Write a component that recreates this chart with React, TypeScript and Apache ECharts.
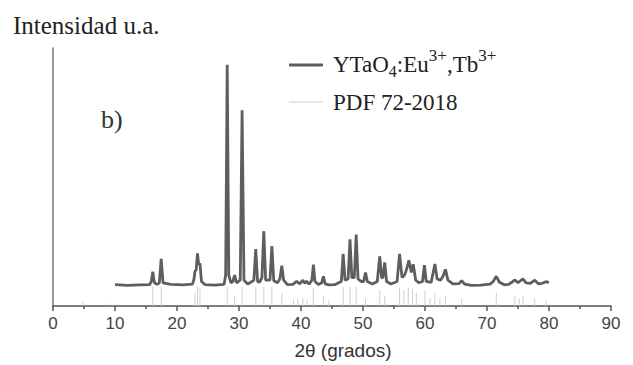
import React, { useEffect, useRef } from "react";
import * as echarts from "echarts";

// XRD pattern (2θ in degrees, intensity in arbitrary units)
const xrdAngles = [
  10, 12, 14, 15.6, 15.85, 16.1, 16.35, 16.8, 17.15, 17.45, 17.75, 19, 21, 22.5, 22.75, 22.9, 23.1, 23.3, 23.5, 23.7, 23.95,
  24.5, 26, 27.6, 27.85, 28.1, 28.35, 28.7, 29.0, 29.3, 29.6, 30.2, 30.5, 30.8, 31.4, 32.4, 32.7, 33.0, 33.3, 33.7, 34.0,
  34.3, 35.0, 35.3, 35.6, 36.2, 36.6, 36.9, 37.2, 37.8, 38.7, 39.3, 39.8, 40.3, 40.6, 40.9, 41.3, 41.75, 42.0, 42.25, 42.8,
  43.35, 43.6, 43.9, 44.5, 45.5, 46.5, 46.8, 47.1, 47.6, 47.9, 48.2, 48.6, 48.9, 49.2, 49.7, 50.1, 50.4, 50.7, 51.5, 52.3,
  52.7, 53.0, 53.2, 53.5, 53.8, 54.5, 55.5, 55.9, 56.3, 56.7, 57.0, 57.4, 57.8, 58.1, 58.5, 59.0, 59.6, 59.9, 60.2, 61.0,
  61.6, 61.95, 62.5, 62.9, 63.3, 63.7, 64.5, 65.5, 65.9, 66.4, 67.5, 69, 70.5, 71.0, 71.5, 72.0, 72.8, 73.5, 74.0, 74.5,
  75.0, 75.4, 75.8, 76.3, 77.0, 77.7, 78.3, 78.9, 79.5, 80,
];
const xrdIntensity = [
  8.3, 8.0, 8.2, 8.3, 9.5, 13.3, 9.0, 8.4, 9.0, 18.3, 9.0, 8.4, 8.2, 8.5, 10.5, 13.5, 14.0, 20.4, 16.0, 16.5, 9.5,
  8.3, 8.1, 8.4, 12.0, 93.5, 12.0, 9.0, 9.5, 12.0, 9.0, 10.0, 75.9, 10.0, 8.5, 10.0, 22.1, 9.5, 9.2, 11.0, 29.0,
  10.0, 10.0, 23.2, 9.8, 9.0, 10.5, 15.6, 10.0, 8.3, 8.4, 9.6, 8.6, 10.0, 8.8, 9.6, 8.5, 10.0, 16.0, 9.5, 8.3,
  9.0, 11.5, 8.6, 8.2, 8.3, 9.5, 20.2, 10.0, 10.5, 25.8, 11.0, 11.0, 27.7, 10.5, 9.5, 9.5, 13.0, 9.5, 8.5, 9.5,
  19.2, 11.0, 11.0, 16.9, 9.5, 8.5, 9.5, 20.2, 11.0, 12.0, 14.0, 17.7, 13.0, 16.2, 10.0, 9.0, 9.5, 15.8, 9.5, 9.2,
  16.3, 10.5, 10.0, 11.5, 14.2, 10.0, 8.6, 8.7, 9.8, 8.5, 8.0, 8.1, 8.5, 9.5, 11.5, 9.2, 8.2, 8.4, 9.2, 10.1,
  9.0, 9.8, 10.5, 9.0, 8.8, 10.0, 8.6, 8.8, 9.4, 9.2,
];

// Reference pattern PDF 72-2018 (positions and relative stick heights)
const pdfAngles = [
  4.8, 9.5, 16.1, 17.45, 22.9, 23.3, 23.7, 28.1, 29.3, 30.5, 32.7, 34.0, 35.3, 36.9, 38.8, 39.5, 40.3, 41.0, 42.0,
  43.6, 44.5, 46.8, 47.9, 48.9, 50.4, 52.7, 53.5, 55.9, 56.6, 57.3, 58.0, 58.6, 60.0, 60.8, 61.6, 62.4, 63.3, 65.9,
  71.5, 74.5, 75.2, 75.8, 77.7, 79.5,
];
const pdfHeights = [
  1.5, 1.0, 7.5, 7.5, 5.0, 7.5, 7.0, 7.5, 4.0, 7.5, 7.5, 7.5, 7.5, 5.0, 2.5, 3.0, 3.0, 2.5, 7.0,
  4.0, 2.0, 7.5, 7.5, 7.5, 3.0, 6.0, 4.0, 7.0, 6.0, 7.0, 6.5, 5.0, 6.0, 3.0, 5.0, 3.0, 4.0, 3.0,
  5.0, 4.0, 3.0, 4.0, 3.0, 2.0,
];

const xTicks = [0, 10, 20, 30, 40, 50, 60, 70, 80, 90];

const SERIF = "'Liberation Serif', 'Times New Roman', serif";
const SANS = "'Liberation Sans', Arial, sans-serif";

export default function App() {
  const ref = useRef<HTMLDivElement>(null);

  useEffect(() => {
    if (!ref.current) return;
    const chart = echarts.init(ref.current, null, { renderer: "svg" });
    const curve = xrdAngles.map((a, i) => [a, xrdIntensity[i]]);
    const sticks = pdfAngles.map((a, i) => [a, pdfHeights[i]]);

    chart.setOption({
      animation: false,
      backgroundColor: "#ffffff",
      grid: { left: 53, right: 22, top: 48, bottom: 57 },
      xAxis: {
        type: "value",
        min: xTicks[0],
        max: xTicks[xTicks.length - 1],
        interval: 10,
        name: "2θ (grados)",
        nameLocation: "middle",
        nameGap: 35,
        nameTextStyle: { fontFamily: SANS, fontSize: 19, color: "#333", padding: [0, 0, 0, 22] },
        axisLine: { show: true, onZero: false, lineStyle: { color: "#555", width: 1.5 } },
        axisTick: { show: true, inside: false, length: 5, lineStyle: { color: "#555", width: 1.5 } },
        minorTick: { show: true, splitNumber: 2, length: 3, lineStyle: { color: "#555", width: 1.5 } },
        axisLabel: { fontFamily: SANS, fontSize: 17, color: "#444", margin: 9 },
        splitLine: { show: false },
      },
      yAxis: {
        type: "value",
        min: 0,
        max: 100,
        axisLine: { show: true, lineStyle: { color: "#777", width: 1.5 } },
        axisTick: { show: false },
        axisLabel: { show: false },
        splitLine: { show: false },
      },
      series: [
        {
          name: "PDF 72-2018",
          type: "bar",
          data: sticks,
          barWidth: 1,
          itemStyle: { color: "#cfcfcf" },
          silent: true,
        },
        {
          name: "YTaO4:Eu3+,Tb3+",
          type: "line",
          data: curve,
          showSymbol: false,
          symbol: "none",
          lineStyle: { color: "#5e5e5e", width: 2.8 },
          z: 3,
        },
      ],
      graphic: [
        {
          type: "text",
          left: 13,
          top: 13,
          style: { text: "Intensidad u.a.", fontFamily: SERIF, fontSize: 25, fill: "#222" },
        },
        {
          type: "text",
          left: 101,
          top: 106,
          style: { text: "b)", fontFamily: SERIF, fontSize: 26, fill: "#333" },
        },
        {
          type: "line",
          shape: { x1: 289, y1: 65, x2: 323, y2: 65 },
          style: { stroke: "#5e5e5e", lineWidth: 2.8 },
        },
        {
          type: "line",
          shape: { x1: 289, y1: 102, x2: 323, y2: 102 },
          style: { stroke: "#cfcfcf", lineWidth: 1.2 },
        },
        {
          type: "text",
          x: 333,
          y: 64,
          style: {
            text: "{n|YTaO}{sub|4}{n|:Eu}{sup|3+}{n|,Tb}{sup|3+}",
            verticalAlign: "middle",
            align: "left",
            fill: "#222",
            rich: {
              n: { fontFamily: SERIF, fontSize: 23, fill: "#222", lineHeight: 34, verticalAlign: "middle" },
              sub: { fontFamily: SERIF, fontSize: 16, fill: "#222", lineHeight: 34, verticalAlign: "bottom", padding: [0, 0, 2, 0] },
              sup: { fontFamily: SERIF, fontSize: 17, fill: "#222", lineHeight: 34, verticalAlign: "top" },
            },
          },
        },
        {
          type: "text",
          x: 333,
          y: 102,
          style: { text: "PDF 72-2018", fontFamily: SERIF, fontSize: 23, fill: "#222", verticalAlign: "middle", align: "left" },
        },
      ],
    });

    return () => chart.dispose();
  }, []);

  return <div ref={ref} style={{ position: "absolute", left: 0, top: 0, width: 633, height: 365 }} />;
}
